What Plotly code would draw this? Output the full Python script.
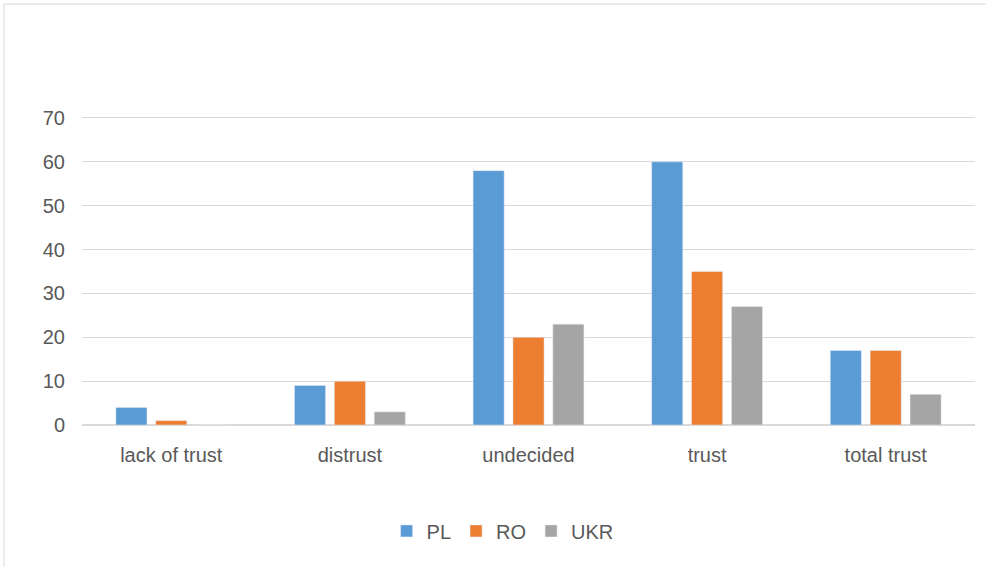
import plotly.graph_objects as go

categories = ["lack of trust", "distrust", "undecided", "trust", "total trust"]
pl = [4, 9, 58, 60, 17]
ro = [1, 10, 20, 35, 17]
ukr = [0, 3, 23, 27, 7]

fig = go.Figure()
fig.add_bar(x=categories, y=pl, name="PL", marker_color="#5b9bd5")
fig.add_bar(x=categories, y=ro, name="RO", marker_color="#ed7d31")
fig.add_bar(x=categories, y=ukr, name="UKR", marker_color="#a5a5a5")

font = dict(family="Liberation Sans, Arial, sans-serif", size=20, color="#595959")

fig.update_layout(
    width=986, height=567,
    margin=dict(l=82, r=11, t=118, b=142),
    paper_bgcolor="white", plot_bgcolor="white",
    barmode="group", bargap=0.33, bargroupgap=0.22,
    font=font,
    showlegend=True,
    legend=dict(orientation="h", x=0.471, xanchor="center", y=-0.345, yanchor="middle",
                font=font, itemwidth=30, traceorder="normal"),
    # thin chart border like the original
    shapes=[dict(type="rect", xref="paper", yref="paper",
                 x0=-0.0873, x1=1.1, y0=-0.6, y1=1.371,
                 line=dict(color="#d9d9d9", width=1))],
)
fig.update_yaxes(range=[0, 70], tickvals=[0, 10, 20, 30, 40, 50, 60, 70],
                 showgrid=True, gridcolor="#d9d9d9",
                 zeroline=True, zerolinecolor="#d9d9d9", ticks="", tickfont=font,
                 ticklabelstandoff=16)
# mirrored x line gives the top (70) gridline
fig.update_xaxes(showline=True, mirror=True, linecolor="#d9d9d9", linewidth=1,
                 ticks="", tickfont=font, ticklabelstandoff=12)

# drop the default 8px page margin so the figure sits at the window corner
fig.write_html("out.html", config={"displayModeBar": False},
               post_script="document.body.style.margin='0';")
